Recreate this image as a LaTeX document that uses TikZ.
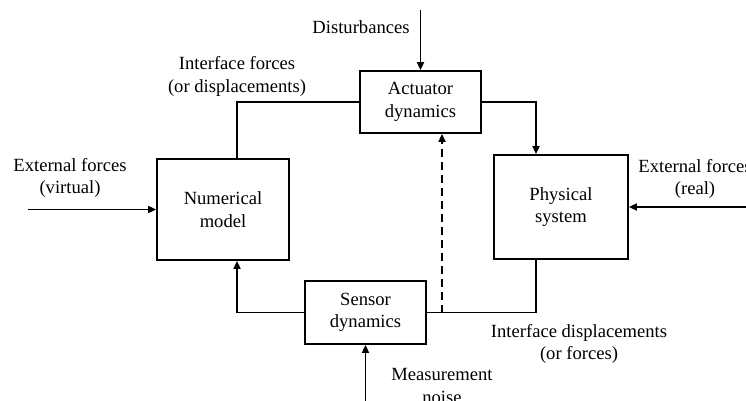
\documentclass[tikz,border=0pt]{standalone}
\usepackage{fontspec}
\setmainfont{Liberation Serif}
\usetikzlibrary{arrows.meta}
\begin{document}
\begin{tikzpicture}[x=1pt,y=-1pt,
  font=\fontsize{18.6}{22.5}\selectfont,
  block/.style={draw,line width=1.8pt,align=center,inner sep=0pt},
  link/.style={line width=1.8pt},
  flow/.style={link,-{Triangle[length=8pt,width=7pt]}},
  lbl/.style={align=center,inner sep=0pt}]
\useasboundingbox (0,0) rectangle (746,401);

% blocks
\node[block,minimum width=132pt,minimum height=101pt] (num) at (223,209.5) {Numerical\\model};
\node[block,minimum width=121pt,minimum height=62pt] (act) at (420.5,102) {Actuator\\dynamics};
\node[block,minimum width=134pt,minimum height=104pt] (phys) at (561,207) {Physical\\system};
\node[block,minimum width=121pt,minimum height=63pt] (sens) at (365.5,312.5) {Sensor\\dynamics};

% routing points and free ends
\coordinate (ifx) at (237,104);
\coordinate (apx) at (536,104);
\coordinate (dsh) at (442,313);
\coordinate (dtop) at (420.5,10);
\coordinate (evl) at (28,209.5);
\coordinate (err) at (746,207);
\coordinate (mn) at (365.5,401);

% connectors
\draw[link] (num.north -| ifx) |- (act.west);
\draw[flow] (act.east) -| (phys.north -| apx);
\draw[link] (phys.south -| apx) |- (sens.east);
\draw[flow] (sens.west) -| (num.south -| ifx);
\draw[flow,dash pattern=on 8pt off 5pt] (dsh) -- (act.south -| dsh);
\draw[flow] (dtop) -- (act.north);
\draw[flow] (evl) -- (num.west);
\draw[flow] (err) -- (phys.east);
\draw[flow] (mn) -- (sens.south);

% labels
\node[lbl] (ldist) at (361,27) {Disturbances};
\node[lbl] (lif) at (237,76.5) {Interface forces\\(or displacements)};
\node[lbl] (lev) at (70,178) {External forces\\(virtual)};
\node[lbl] (ler) at (695,179) {External forces\\(real)};
\node[lbl] (lid) at (579,344) {Interface displacements\\(or forces)};
\node[lbl] (lmn) at (442,386) {Measurement\\noise};
\end{tikzpicture}
\end{document}
